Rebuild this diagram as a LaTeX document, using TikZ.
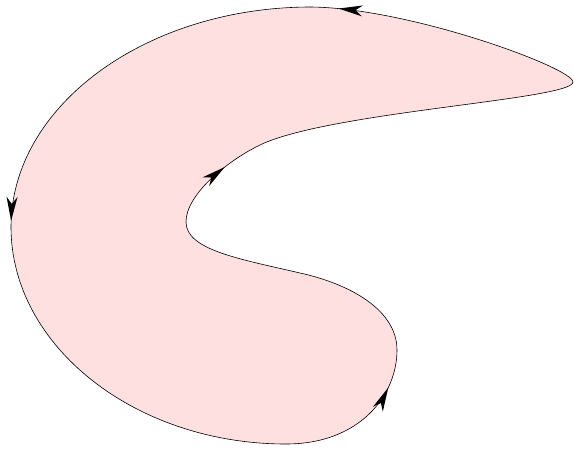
\documentclass[tikz,border=0pt]{standalone}
\usetikzlibrary{decorations.markings}
\definecolor{shapefill}{RGB}{255,224,224}
\tikzset{
  outline/.style={draw=black,line width=0.6pt},
  arrowat/.style={postaction={decorate},decoration={markings,mark=at position #1 with {\fill[black] (0pt,0pt) -- (-24pt,5.5pt) -- (-17pt,0pt) -- (-24pt,-5.5pt) -- cycle;}}}
}
\begin{document}
\begin{tikzpicture}[x=1pt,y=-1pt]
\useasboundingbox (0,0) rectangle (574,448);
\coordinate (R) at (573,82);
\coordinate (T) at (311,7);
\coordinate (L) at (11,227);
\coordinate (B) at (286,444);
\coordinate (RL) at (397,350);
\coordinate (M) at (300,273);
\coordinate (I) at (186,222);
\coordinate (N) at (256,147);
\fill[shapefill] (R) .. controls (573,68) and (410,8) .. (T)
  .. controls (146,7) and (11,106) .. (L)
  .. controls (11,346) and (135,444) .. (B)
  .. controls (360,444) and (397,395) .. (RL)
  .. controls (397,310) and (350,284) .. (M)
  .. controls (240,259) and (186,250) .. (I)
  .. controls (186,195) and (225,163) .. (N)
  .. controls (320,112) and (573,100) .. (R) -- cycle;
\draw[outline,arrowat=0.9] (R) .. controls (573,68) and (410,8) .. (T);
\draw[outline,arrowat=0.985] (T) .. controls (146,7) and (11,106) .. (L);
\draw[outline] (L) .. controls (11,346) and (135,444) .. (B);
\draw[outline,arrowat=0.76] (B) .. controls (360,444) and (397,395) .. (RL);
\draw[outline] (RL) .. controls (397,310) and (350,284) .. (M)
  .. controls (240,259) and (186,250) .. (I);
\draw[outline,arrowat=0.65] (I) .. controls (186,195) and (225,163) .. (N);
\draw[outline] (N) .. controls (320,112) and (573,100) .. (R);
\end{tikzpicture}
\end{document}
